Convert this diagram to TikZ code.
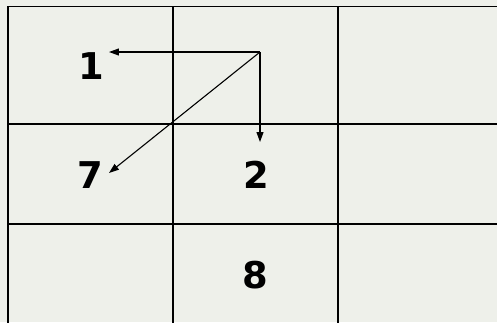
\documentclass[tikz,border=0pt]{standalone}
\usepackage{fontspec}
\setmainfont{DejaVu Sans}
\usetikzlibrary{arrows.meta}
\definecolor{bgc}{HTML}{EEF0EA}
\tikzset{
  grid line/.style={line width=1.8pt, black},
  digit/.style={font=\fontsize{37}{42}\selectfont\bfseries, inner sep=0pt, text=black},
  conn/.style={line width=1.1pt, -{Triangle[length=10pt,width=7pt]}},
}
\begin{document}
\begin{tikzpicture}[x=1bp,y=-1bp]
\useasboundingbox (0,0) rectangle (497,322);
\fill[bgc] (0,0) rectangle (497,322);
\begin{scope}
\clip (0,0) rectangle (497,322);
\draw[grid line] (8,330) -- (8,6.5) -- (510,6.5);
\draw[grid line] (173,6.5) -- (173,330);
\draw[grid line] (338,6.5) -- (338,330);
\draw[grid line] (8,124) -- (510,124);
\draw[grid line] (8,224) -- (510,224);
\end{scope}
\node[digit] (n1) at (91,66) {1};
\node[digit] (n7) at (90,175) {7};
\node[digit] (n2) at (256,175) {2};
\node[digit] (n8) at (255,275) {8};
\coordinate (o) at (260,52);
\coordinate (t1) at (109,52);
\coordinate (t2) at (260,142);
\coordinate (t7) at (109,173);
\draw[conn] (o) -- (t1);
\draw[conn] (o) -- (t2);
\draw[conn] (o) -- (t7);
\end{tikzpicture}
\end{document}
